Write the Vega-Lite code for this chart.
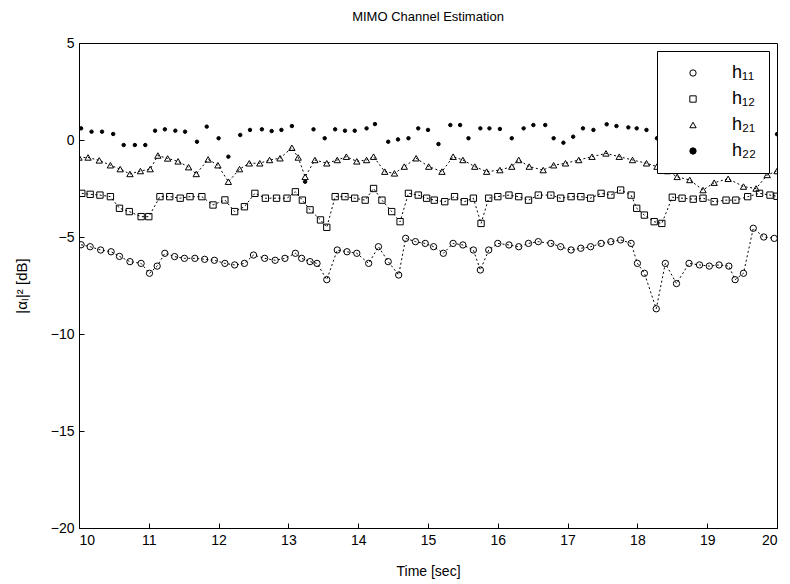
{
  "$schema": "https://vega.github.io/schema/vega-lite/v6.json",
  "width": 698,
  "height": 485,
  "autosize": {"type": "none"},
  "padding": {"left": 79, "top": 43, "right": 13, "bottom": 56},
  "background": "white",
  "title": {"text": "MIMO Channel Estimation", "font": "Liberation Sans", "fontSize": 13, "fontWeight": "normal", "color": "black", "offset": 12, "anchor": "middle"},
  "config": {
    "view": {"stroke": "black", "strokeWidth": 1},
    "axis": {"grid": false, "domainColor": "black", "tickColor": "black", "labelColor": "black", "titleColor": "black", "labelFont": "Liberation Sans", "titleFont": "Liberation Sans", "labelFontSize": 14, "titleFontSize": 14, "titleFontWeight": "normal", "tickSize": -5, "labelPadding": 10}
  },
  "data": {"values": [
    {"s":"h₁₁","t":10.03,"v":-5.4},{"s":"h₁₁","t":10.16,"v":-5.5},{"s":"h₁₁","t":10.31,"v":-5.67},{"s":"h₁₁","t":10.46,"v":-5.76},{"s":"h₁₁","t":10.58,"v":-6.0},{"s":"h₁₁","t":10.73,"v":-6.27},{"s":"h₁₁","t":10.89,"v":-6.36},{"s":"h₁₁","t":11.01,"v":-6.87},{"s":"h₁₁","t":11.12,"v":-6.5},{"s":"h₁₁","t":11.23,"v":-5.84},{"s":"h₁₁","t":11.37,"v":-6.01},{"s":"h₁₁","t":11.51,"v":-6.1},{"s":"h₁₁","t":11.66,"v":-6.1},{"s":"h₁₁","t":11.8,"v":-6.15},{"s":"h₁₁","t":11.94,"v":-6.2},{"s":"h₁₁","t":12.09,"v":-6.36},{"s":"h₁₁","t":12.23,"v":-6.44},{"s":"h₁₁","t":12.37,"v":-6.36},{"s":"h₁₁","t":12.5,"v":-5.93},{"s":"h₁₁","t":12.66,"v":-6.1},{"s":"h₁₁","t":12.81,"v":-6.2},{"s":"h₁₁","t":12.95,"v":-6.1},{"s":"h₁₁","t":13.1,"v":-5.84},{"s":"h₁₁","t":13.19,"v":-6.1},{"s":"h₁₁","t":13.31,"v":-6.27},{"s":"h₁₁","t":13.41,"v":-6.36},{"s":"h₁₁","t":13.55,"v":-7.2},{"s":"h₁₁","t":13.7,"v":-5.67},{"s":"h₁₁","t":13.84,"v":-5.76},{"s":"h₁₁","t":13.98,"v":-5.84},{"s":"h₁₁","t":14.15,"v":-6.36},{"s":"h₁₁","t":14.29,"v":-5.5},{"s":"h₁₁","t":14.43,"v":-6.27},{"s":"h₁₁","t":14.58,"v":-6.96},{"s":"h₁₁","t":14.68,"v":-5.07},{"s":"h₁₁","t":14.82,"v":-5.24},{"s":"h₁₁","t":14.96,"v":-5.33},{"s":"h₁₁","t":15.08,"v":-5.5},{"s":"h₁₁","t":15.22,"v":-5.84},{"s":"h₁₁","t":15.36,"v":-5.33},{"s":"h₁₁","t":15.5,"v":-5.41},{"s":"h₁₁","t":15.65,"v":-5.67},{"s":"h₁₁","t":15.75,"v":-6.7},{"s":"h₁₁","t":15.87,"v":-5.67},{"s":"h₁₁","t":16.0,"v":-5.33},{"s":"h₁₁","t":16.16,"v":-5.41},{"s":"h₁₁","t":16.3,"v":-5.5},{"s":"h₁₁","t":16.44,"v":-5.33},{"s":"h₁₁","t":16.58,"v":-5.24},{"s":"h₁₁","t":16.76,"v":-5.33},{"s":"h₁₁","t":16.9,"v":-5.5},{"s":"h₁₁","t":17.05,"v":-5.67},{"s":"h₁₁","t":17.19,"v":-5.58},{"s":"h₁₁","t":17.33,"v":-5.5},{"s":"h₁₁","t":17.48,"v":-5.33},{"s":"h₁₁","t":17.62,"v":-5.24},{"s":"h₁₁","t":17.76,"v":-5.15},{"s":"h₁₁","t":17.91,"v":-5.33},{"s":"h₁₁","t":18.0,"v":-6.36},{"s":"h₁₁","t":18.1,"v":-6.87},{"s":"h₁₁","t":18.27,"v":-8.7},{"s":"h₁₁","t":18.4,"v":-6.36},{"s":"h₁₁","t":18.56,"v":-7.4},{"s":"h₁₁","t":18.74,"v":-6.36},{"s":"h₁₁","t":18.89,"v":-6.44},{"s":"h₁₁","t":19.03,"v":-6.5},{"s":"h₁₁","t":19.17,"v":-6.44},{"s":"h₁₁","t":19.31,"v":-6.5},{"s":"h₁₁","t":19.4,"v":-7.2},{"s":"h₁₁","t":19.52,"v":-6.87},{"s":"h₁₁","t":19.66,"v":-4.55},{"s":"h₁₁","t":19.81,"v":-5.0},{"s":"h₁₁","t":19.96,"v":-5.07},
    {"s":"h₁₂","t":10.04,"v":-2.75},{"s":"h₁₂","t":10.16,"v":-2.8},{"s":"h₁₂","t":10.3,"v":-2.84},{"s":"h₁₂","t":10.45,"v":-2.92},{"s":"h₁₂","t":10.58,"v":-3.52},{"s":"h₁₂","t":10.72,"v":-3.69},{"s":"h₁₂","t":10.89,"v":-3.95},{"s":"h₁₂","t":11.0,"v":-3.95},{"s":"h₁₂","t":11.16,"v":-2.92},{"s":"h₁₂","t":11.3,"v":-2.92},{"s":"h₁₂","t":11.45,"v":-3.0},{"s":"h₁₂","t":11.59,"v":-2.92},{"s":"h₁₂","t":11.76,"v":-2.92},{"s":"h₁₂","t":11.92,"v":-3.35},{"s":"h₁₂","t":12.09,"v":-3.09},{"s":"h₁₂","t":12.23,"v":-3.69},{"s":"h₁₂","t":12.37,"v":-3.44},{"s":"h₁₂","t":12.52,"v":-2.75},{"s":"h₁₂","t":12.67,"v":-3.0},{"s":"h₁₂","t":12.83,"v":-3.0},{"s":"h₁₂","t":12.98,"v":-3.0},{"s":"h₁₂","t":13.1,"v":-2.67},{"s":"h₁₂","t":13.2,"v":-3.1},{"s":"h₁₂","t":13.31,"v":-3.6},{"s":"h₁₂","t":13.46,"v":-4.12},{"s":"h₁₂","t":13.55,"v":-4.5},{"s":"h₁₂","t":13.67,"v":-2.92},{"s":"h₁₂","t":13.81,"v":-2.92},{"s":"h₁₂","t":13.95,"v":-3.0},{"s":"h₁₂","t":14.1,"v":-3.1},{"s":"h₁₂","t":14.22,"v":-2.5},{"s":"h₁₂","t":14.34,"v":-3.1},{"s":"h₁₂","t":14.48,"v":-3.69},{"s":"h₁₂","t":14.6,"v":-4.21},{"s":"h₁₂","t":14.72,"v":-2.75},{"s":"h₁₂","t":14.86,"v":-2.84},{"s":"h₁₂","t":14.98,"v":-3.0},{"s":"h₁₂","t":15.09,"v":-3.1},{"s":"h₁₂","t":15.24,"v":-3.18},{"s":"h₁₂","t":15.38,"v":-2.92},{"s":"h₁₂","t":15.52,"v":-3.18},{"s":"h₁₂","t":15.65,"v":-3.0},{"s":"h₁₂","t":15.76,"v":-4.3},{"s":"h₁₂","t":15.87,"v":-3.0},{"s":"h₁₂","t":16.0,"v":-2.92},{"s":"h₁₂","t":16.16,"v":-2.84},{"s":"h₁₂","t":16.3,"v":-2.92},{"s":"h₁₂","t":16.44,"v":-3.1},{"s":"h₁₂","t":16.58,"v":-2.84},{"s":"h₁₂","t":16.76,"v":-2.84},{"s":"h₁₂","t":16.9,"v":-3.0},{"s":"h₁₂","t":17.05,"v":-2.92},{"s":"h₁₂","t":17.19,"v":-2.92},{"s":"h₁₂","t":17.33,"v":-3.0},{"s":"h₁₂","t":17.48,"v":-2.75},{"s":"h₁₂","t":17.62,"v":-2.84},{"s":"h₁₂","t":17.76,"v":-2.58},{"s":"h₁₂","t":17.91,"v":-2.84},{"s":"h₁₂","t":17.99,"v":-3.52},{"s":"h₁₂","t":18.1,"v":-3.87},{"s":"h₁₂","t":18.24,"v":-4.21},{"s":"h₁₂","t":18.35,"v":-4.3},{"s":"h₁₂","t":18.5,"v":-2.95},{"s":"h₁₂","t":18.64,"v":-3.0},{"s":"h₁₂","t":18.8,"v":-3.05},{"s":"h₁₂","t":18.94,"v":-3.0},{"s":"h₁₂","t":19.1,"v":-3.18},{"s":"h₁₂","t":19.27,"v":-3.1},{"s":"h₁₂","t":19.41,"v":-3.1},{"s":"h₁₂","t":19.58,"v":-2.92},{"s":"h₁₂","t":19.75,"v":-2.75},{"s":"h₁₂","t":19.9,"v":-2.84},{"s":"h₁₂","t":20.0,"v":-2.9},
    {"s":"h₂₁","t":10.0,"v":-0.9},{"s":"h₂₁","t":10.13,"v":-0.9},{"s":"h₂₁","t":10.29,"v":-1.05},{"s":"h₂₁","t":10.45,"v":-1.3},{"s":"h₂₁","t":10.59,"v":-1.5},{"s":"h₂₁","t":10.73,"v":-1.75},{"s":"h₂₁","t":10.88,"v":-1.6},{"s":"h₂₁","t":11.02,"v":-1.5},{"s":"h₂₁","t":11.13,"v":-0.8},{"s":"h₂₁","t":11.27,"v":-0.95},{"s":"h₂₁","t":11.42,"v":-1.1},{"s":"h₂₁","t":11.57,"v":-1.4},{"s":"h₂₁","t":11.68,"v":-1.75},{"s":"h₂₁","t":11.85,"v":-1.0},{"s":"h₂₁","t":11.99,"v":-1.3},{"s":"h₂₁","t":12.14,"v":-2.15},{"s":"h₂₁","t":12.3,"v":-1.5},{"s":"h₂₁","t":12.44,"v":-1.2},{"s":"h₂₁","t":12.59,"v":-1.2},{"s":"h₂₁","t":12.73,"v":-1.03},{"s":"h₂₁","t":12.88,"v":-0.94},{"s":"h₂₁","t":13.05,"v":-0.4},{"s":"h₂₁","t":13.14,"v":-0.9},{"s":"h₂₁","t":13.24,"v":-1.9},{"s":"h₂₁","t":13.38,"v":-1.03},{"s":"h₂₁","t":13.55,"v":-1.2},{"s":"h₂₁","t":13.7,"v":-1.03},{"s":"h₂₁","t":13.83,"v":-0.86},{"s":"h₂₁","t":13.98,"v":-1.1},{"s":"h₂₁","t":14.12,"v":-1.03},{"s":"h₂₁","t":14.22,"v":-0.86},{"s":"h₂₁","t":14.38,"v":-1.63},{"s":"h₂₁","t":14.52,"v":-1.72},{"s":"h₂₁","t":14.66,"v":-1.37},{"s":"h₂₁","t":14.83,"v":-0.94},{"s":"h₂₁","t":15.01,"v":-1.37},{"s":"h₂₁","t":15.2,"v":-1.63},{"s":"h₂₁","t":15.36,"v":-0.86},{"s":"h₂₁","t":15.5,"v":-1.03},{"s":"h₂₁","t":15.67,"v":-1.37},{"s":"h₂₁","t":15.84,"v":-1.63},{"s":"h₂₁","t":16.03,"v":-1.55},{"s":"h₂₁","t":16.2,"v":-1.37},{"s":"h₂₁","t":16.3,"v":-1.03},{"s":"h₂₁","t":16.45,"v":-1.37},{"s":"h₂₁","t":16.65,"v":-1.55},{"s":"h₂₁","t":16.8,"v":-1.3},{"s":"h₂₁","t":16.97,"v":-1.2},{"s":"h₂₁","t":17.16,"v":-1.03},{"s":"h₂₁","t":17.35,"v":-0.86},{"s":"h₂₁","t":17.55,"v":-0.69},{"s":"h₂₁","t":17.74,"v":-0.86},{"s":"h₂₁","t":17.93,"v":-1.03},{"s":"h₂₁","t":18.13,"v":-1.2},{"s":"h₂₁","t":18.28,"v":-1.37},{"s":"h₂₁","t":18.43,"v":-1.6},{"s":"h₂₁","t":18.57,"v":-1.9},{"s":"h₂₁","t":18.75,"v":-2.06},{"s":"h₂₁","t":18.94,"v":-2.58},{"s":"h₂₁","t":19.1,"v":-2.2},{"s":"h₂₁","t":19.3,"v":-2.0},{"s":"h₂₁","t":19.52,"v":-2.4},{"s":"h₂₁","t":19.7,"v":-2.5},{"s":"h₂₁","t":19.86,"v":-1.8},{"s":"h₂₁","t":20.0,"v":-1.6},
    {"s":"h₂₂","t":10.03,"v":0.6},{"s":"h₂₂","t":10.18,"v":0.43},{"s":"h₂₂","t":10.33,"v":0.43},{"s":"h₂₂","t":10.49,"v":0.31},{"s":"h₂₂","t":10.64,"v":-0.26},{"s":"h₂₂","t":10.8,"v":-0.26},{"s":"h₂₂","t":10.95,"v":-0.26},{"s":"h₂₂","t":11.09,"v":0.48},{"s":"h₂₂","t":11.23,"v":0.55},{"s":"h₂₂","t":11.38,"v":0.48},{"s":"h₂₂","t":11.52,"v":0.43},{"s":"h₂₂","t":11.69,"v":-0.09},{"s":"h₂₂","t":11.83,"v":0.69},{"s":"h₂₂","t":12.0,"v":0.09},{"s":"h₂₂","t":12.14,"v":-0.86},{"s":"h₂₂","t":12.31,"v":0.26},{"s":"h₂₂","t":12.45,"v":0.52},{"s":"h₂₂","t":12.62,"v":0.55},{"s":"h₂₂","t":12.76,"v":0.46},{"s":"h₂₂","t":12.9,"v":0.52},{"s":"h₂₂","t":13.05,"v":0.72},{"s":"h₂₂","t":13.24,"v":-2.15},{"s":"h₂₂","t":13.36,"v":0.55},{"s":"h₂₂","t":13.52,"v":0.09},{"s":"h₂₂","t":13.67,"v":0.55},{"s":"h₂₂","t":13.81,"v":0.48},{"s":"h₂₂","t":13.95,"v":0.48},{"s":"h₂₂","t":14.12,"v":0.6},{"s":"h₂₂","t":14.24,"v":0.82},{"s":"h₂₂","t":14.43,"v":-0.09},{"s":"h₂₂","t":14.57,"v":0.03},{"s":"h₂₂","t":14.72,"v":0.09},{"s":"h₂₂","t":14.86,"v":0.6},{"s":"h₂₂","t":15.0,"v":0.52},{"s":"h₂₂","t":15.15,"v":-0.21},{"s":"h₂₂","t":15.32,"v":0.77},{"s":"h₂₂","t":15.46,"v":0.77},{"s":"h₂₂","t":15.58,"v":0.09},{"s":"h₂₂","t":15.75,"v":0.6},{"s":"h₂₂","t":15.88,"v":0.6},{"s":"h₂₂","t":16.03,"v":0.57},{"s":"h₂₂","t":16.2,"v":0.09},{"s":"h₂₂","t":16.37,"v":0.6},{"s":"h₂₂","t":16.51,"v":0.77},{"s":"h₂₂","t":16.68,"v":0.77},{"s":"h₂₂","t":16.8,"v":0.09},{"s":"h₂₂","t":16.94,"v":-0.14},{"s":"h₂₂","t":17.08,"v":0.17},{"s":"h₂₂","t":17.22,"v":0.6},{"s":"h₂₂","t":17.37,"v":0.52},{"s":"h₂₂","t":17.56,"v":0.81},{"s":"h₂₂","t":17.7,"v":0.72},{"s":"h₂₂","t":17.87,"v":0.65},{"s":"h₂₂","t":17.99,"v":0.6},{"s":"h₂₂","t":18.13,"v":0.52},{"s":"h₂₂","t":18.28,"v":0.09},{"s":"h₂₂","t":18.42,"v":0.4},{"s":"h₂₂","t":18.57,"v":0.5},{"s":"h₂₂","t":18.71,"v":0.3},{"s":"h₂₂","t":18.85,"v":0.6},{"s":"h₂₂","t":19.0,"v":0.5},{"s":"h₂₂","t":19.14,"v":0.2},{"s":"h₂₂","t":19.28,"v":0.5},{"s":"h₂₂","t":19.42,"v":0.6},{"s":"h₂₂","t":19.57,"v":0.4},{"s":"h₂₂","t":19.71,"v":0.5},{"s":"h₂₂","t":19.85,"v":0.3},{"s":"h₂₂","t":20.0,"v":0.3}
  ]},
  "encoding": {
    "x": {"field": "t", "type": "quantitative", "scale": {"domain": [10, 20], "nice": false, "zero": false}, "axis": {"title": "Time [sec]", "values": [10,11,12,13,14,15,16,17,18,19,20], "titlePadding": 17}},
    "y": {"field": "v", "type": "quantitative", "scale": {"domain": [-20, 5], "nice": false, "zero": false}, "axis": {"title": "|αₗ|² [dB]", "values": [-20,-15,-10,-5,0,5], "titlePadding": 21, "titleFontSize": 15}}
  },
  "layer": [
    {
      "transform": [{"filter": "datum.s != 'h₂₂'"}],
      "mark": {"type": "line", "color": "black", "strokeWidth": 1, "strokeDash": [2, 2.5], "clip": true},
      "encoding": {"detail": {"field": "s"}}
    },
    {
      "transform": [{"filter": "datum.s != 'h₂₂'"}],
      "mark": {"type": "point", "strokeWidth": 1, "opacity": 1, "size": 40, "clip": true},
      "encoding": {
        "shape": {"field": "s", "type": "nominal", "scale": {"domain": ["h₁₁","h₁₂","h₂₁","h₂₂"], "range": ["circle","square","triangle-up","circle"]},
          "legend": {"title": null, "orient": "top-right", "offset": 8, "padding": 13, "symbolOffset": 14, "fillColor": "white", "strokeColor": "black", "labelFont": "Liberation Sans", "labelFontSize": 18, "labelColor": "black", "labelOffset": 30, "rowPadding": 8, "symbolStrokeWidth": 1, "symbolSize": 40}},
        "fill": {"field": "s", "type": "nominal", "scale": {"domain": ["h₁₁","h₁₂","h₂₁","h₂₂"], "range": ["transparent","transparent","transparent","black"]}},
        "stroke": {"field": "s", "type": "nominal", "scale": {"domain": ["h₁₁","h₁₂","h₂₁","h₂₂"], "range": ["black","black","black","black"]}}
      }
    },
    {
      "transform": [{"filter": "datum.s == 'h₂₂'"}],
      "mark": {"type": "point", "strokeWidth": 1, "opacity": 1, "size": 12, "clip": true},
      "encoding": {
        "shape": {"field": "s", "type": "nominal"},
        "fill": {"field": "s", "type": "nominal"},
        "stroke": {"field": "s", "type": "nominal"}
      }
    }
  ]
}
